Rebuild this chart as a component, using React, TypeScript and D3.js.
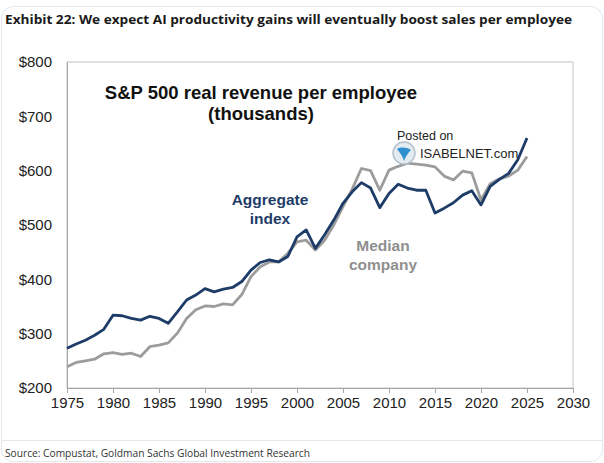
import * as d3 from "d3";
import { useEffect, useRef } from "react";

// Years on the x axis, one point per year
const years = d3.range(1975, 2026);

// S&P 500 aggregate index, real revenue per employee ($ thousands)
const aggregate = [
  273, 281, 288, 297, 308, 334, 333, 328, 325, 332,
  328, 319, 340, 362, 371, 383, 377, 382, 385, 396,
  417, 431, 436, 432, 442, 478, 491, 457, 482, 509,
  540, 561, 578, 568, 532, 558, 575, 568, 564, 564,
  522, 531, 541, 555, 563, 537, 571, 584, 595, 620,
  660,
];

// Median company
const median = [
  239, 247, 250, 253, 263, 265, 262, 264, 258, 276,
  279, 283, 301, 328, 344, 351, 350, 355, 353, 372,
  405, 423, 432, 432, 448, 469, 472, 454, 472, 500,
  534, 566, 604, 600, 564, 601, 608, 614, 612, 610,
  607, 590, 583, 599, 596, 546, 576, 585, 590, 601,
  626,
];

const yTicks = [200, 300, 400, 500, 600, 700, 800];
const xTicks = [1975, 1980, 1985, 1990, 1995, 2000, 2005, 2010, 2015, 2020, 2025, 2030];

const App: React.FC = () => {
  const ref = useRef<SVGSVGElement>(null);

  const width = 604;
  const height = 463;
  const plot = { left: 67, right: 573, top: 62, bottom: 388 };
  const navy = "#1d3c68";
  const grey = "#9c9c9c";
  const font = "'Liberation Sans', Arial, sans-serif";

  useEffect(() => {
    if (!ref.current) return;
    const svg = d3.select(ref.current);
    svg.selectAll("*").remove();

    // card background + borders
    svg.append("rect")
      .attr("x", 1.5).attr("y", 6.5)
      .attr("width", 601).attr("height", 455)
      .attr("rx", 12)
      .attr("fill", "#fff")
      .attr("stroke", "#e3e7ea");
    svg.append("line")
      .attr("x1", 2).attr("x2", 602)
      .attr("y1", 440.5).attr("y2", 440.5)
      .attr("stroke", "#e3e7ea");

    svg.append("text")
      .attr("x", 5).attr("y", 24)
      .attr("textLength", 567)
      .attr("lengthAdjust", "spacingAndGlyphs")
      .style("font-family", "'Open Sans', sans-serif")
      .style("font-weight", 700)
      .style("font-size", "13px")
      .style("fill", "#1a1a1a")
      .text("Exhibit 22: We expect AI productivity gains will eventually boost sales per employee");

    svg.append("text")
      .attr("x", 5).attr("y", 457)
      .attr("textLength", 305)
      .attr("lengthAdjust", "spacingAndGlyphs")
      .style("font-family", "'Open Sans', sans-serif")
      .style("font-size", "10.5px")
      .style("fill", "#333")
      .text("Source: Compustat, Goldman Sachs Global Investment Research");

    const x = d3.scaleLinear().domain([1975, 2030]).range([plot.left, plot.right]);
    const y = d3.scaleLinear().domain([200, 800]).range([plot.bottom, plot.top]);

    // plot frame
    svg.append("rect")
      .attr("x", plot.left).attr("y", plot.top)
      .attr("width", plot.right - plot.left)
      .attr("height", plot.bottom - plot.top)
      .attr("fill", "none")
      .attr("stroke", "#c4c4c4");

    // x axis
    const xAxis = svg.append("g")
      .attr("transform", `translate(0, ${plot.bottom})`)
      .call(d3.axisBottom(x).tickValues(xTicks).tickFormat(d3.format("d")).tickSize(5).tickPadding(4));
    xAxis.select(".domain").attr("stroke", "#a6a6a6");
    xAxis.selectAll(".tick line").attr("stroke", "#a6a6a6");
    xAxis.selectAll(".tick text")
      .style("font-family", font)
      .style("font-size", "15px")
      .style("fill", "#222");

    // y axis labels (no tick marks)
    const yAxis = svg.append("g")
      .attr("transform", `translate(${plot.left}, 0)`)
      .call(d3.axisLeft(y).tickValues(yTicks).tickFormat((d) => `$${d}`).tickSize(0).tickPadding(15));
    yAxis.select(".domain").attr("stroke", "#a6a6a6");
    yAxis.selectAll(".tick text")
      .style("font-family", font)
      .style("font-size", "15px")
      .style("fill", "#222");

    const line = d3.line<number>()
      .x((_d, i) => x(years[i]))
      .y((d) => y(d));

    svg.append("path")
      .attr("d", line(median))
      .attr("fill", "none")
      .attr("stroke", grey)
      .attr("stroke-width", 2.8)
      .attr("stroke-linejoin", "round");

    svg.append("path")
      .attr("d", line(aggregate))
      .attr("fill", "none")
      .attr("stroke", navy)
      .attr("stroke-width", 2.8)
      .attr("stroke-linejoin", "round");

    // chart title
    const title = svg.append("text")
      .attr("text-anchor", "middle")
      .style("font-family", font)
      .style("font-weight", 700)
      .style("font-size", "18.5px")
      .style("fill", "#111");
    title.append("tspan").attr("x", 261).attr("y", 99).text("S&P 500 real revenue per employee");
    title.append("tspan").attr("x", 261).attr("y", 120).text("(thousands)");

    // series labels
    const addLabel = (lines: string[], cx: number, cy: number, color: string) => {
      const t = svg.append("text")
        .attr("text-anchor", "middle")
        .style("font-family", font)
        .style("font-weight", 700)
        .style("font-size", "15.5px")
        .style("fill", color);
      lines.forEach((s, i) => t.append("tspan").attr("x", cx).attr("y", cy + i * 19).text(s));
    };
    addLabel(["Aggregate", "index"], 270, 205, navy);
    addLabel(["Median", "company"], 383, 251, "#8f8f8f");

    // watermark
    svg.append("text")
      .attr("x", 397).attr("y", 140)
      .style("font-family", font)
      .style("font-size", "12.5px")
      .style("fill", "#222")
      .text("Posted on");
    svg.append("text")
      .attr("x", 420).attr("y", 158)
      .style("font-family", font)
      .style("font-size", "13px")
      .style("fill", "#222")
      .text("ISABELNET.com");
    const logo = svg.append("g").attr("transform", "translate(404, 153)");
    logo.append("circle").attr("r", 11).attr("fill", "#e4ebf0").attr("stroke", "#b5c2cc").attr("stroke-width", 1.5);
    logo.append("path")
      .attr("d", "M-7,-4 C-3,-6 2,-6 7,-3 C4,0 2,3 0,8 C-1,4 -3,1 -7,-4 Z")
      .attr("fill", "#2f8fd0");
  }, []);

  return (
    <svg
      ref={ref}
      width={width}
      height={height}
      style={{ position: "absolute", left: 0, top: 0, background: "#fff" }}
    ></svg>
  );
};

export default App;
